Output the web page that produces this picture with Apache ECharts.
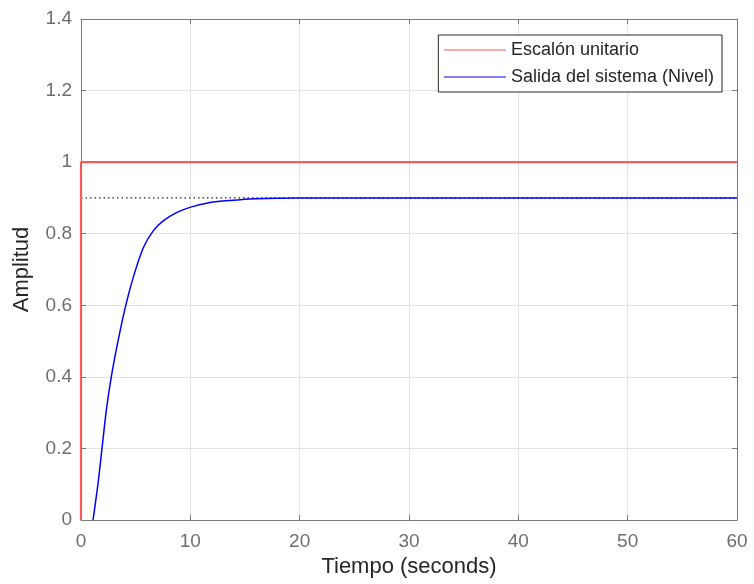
<!DOCTYPE html>
<html>
<head>
<meta charset="utf-8">
<script src="https://cdn.jsdelivr.net/npm/echarts@6/dist/echarts.min.js"></script>
<style>
  html, body { margin: 0; padding: 0; background: #fff; }
  #chart { width: 754px; height: 584px; }
</style>
</head>
<body>
<div id="chart"></div>
<script>
  // step input (t, amplitude)
  const stepTime = [0, 0, 60];
  const stepValue = [0, 1, 1];

  // system output
  const outTime = [1.1, 1.55, 1.92, 2.31, 2.77, 3.32, 4.02, 4.78, 5.69, 6.6, 7.52, 8.74, 10.1, 11.8, 13.6, 16.0, 20, 30, 60];
  const outValue = [0, 0.10, 0.20, 0.305, 0.40, 0.49, 0.59, 0.678, 0.76, 0.808, 0.836, 0.859, 0.875, 0.887, 0.893, 0.898, 0.9, 0.9, 0.9];

  // steady state marker
  const finalTime = [0, 60];
  const finalValue = [0.9, 0.9];

  const xTicks = [0, 10, 20, 30, 40, 50, 60];
  const yTicks = [0, 0.2, 0.4, 0.6, 0.8, 1, 1.2, 1.4];

  const font = 'Liberation Sans, Arial, Helvetica, sans-serif';
  const axisGray = '#7a7a7a';

  const zip = (a, b) => a.map((v, i) => [v, b[i]]);

  const chart = echarts.init(document.getElementById('chart'));

  chart.setOption({
    animation: false,
    textStyle: { fontFamily: font },
    grid: {
      left: 81,
      right: 17,
      top: 19,
      bottom: 64,
      containLabel: false,
      outerBoundsMode: 'none'
    },
    legend: {
      right: 32,
      top: 35,
      orient: 'vertical',
      align: 'left',
      backgroundColor: '#fff',
      borderColor: '#262626',
      borderWidth: 1,
      borderRadius: 0,
      padding: [6, 8, 6, 5],
      itemWidth: 62,
      itemHeight: 18,
      itemGap: 9,
      itemStyle: { opacity: 0 },
      lineStyle: { width: 1.2 },
      textStyle: { fontSize: 18, color: '#262626', fontFamily: font },
      data: ['Escalón unitario', 'Salida del sistema (Nivel)']
    },
    xAxis: [
      {
        type: 'value',
        min: xTicks[0],
        max: xTicks[xTicks.length - 1],
        interval: 10,
        name: 'Tiempo (seconds)',
        nameLocation: 'middle',
        nameGap: 36,
        nameTextStyle: { fontSize: 22, color: '#262626', fontFamily: font },
        axisLine: { show: true, lineStyle: { color: axisGray, width: 1 } },
        axisTick: { show: true, inside: true, length: 5, lineStyle: { color: axisGray } },
        axisLabel: { fontSize: 19, color: '#6e6e6e', margin: 12, fontFamily: font },
        splitLine: { show: true, lineStyle: { color: '#e3e3e3', width: 1 } }
      },
      {
        type: 'value',
        position: 'top',
        min: xTicks[0],
        max: xTicks[xTicks.length - 1],
        interval: 10,
        axisLine: { show: true, onZero: false, lineStyle: { color: axisGray, width: 1 } },
        axisTick: { show: true, inside: true, length: 5, lineStyle: { color: axisGray } },
        axisLabel: { show: false },
        splitLine: { show: false }
      }
    ],
    yAxis: [
      {
        type: 'value',
        min: yTicks[0],
        max: yTicks[yTicks.length - 1],
        interval: 0.2,
        name: 'Amplitud',
        nameLocation: 'middle',
        nameRotate: 90,
        nameGap: 48,
        nameTextStyle: { fontSize: 22, color: '#262626', fontFamily: font },
        axisLine: { show: true, lineStyle: { color: axisGray, width: 1 } },
        axisTick: { show: true, inside: true, length: 5, lineStyle: { color: axisGray } },
        axisLabel: { fontSize: 19, color: '#6e6e6e', margin: 9, fontFamily: font },
        splitLine: { show: true, lineStyle: { color: '#e3e3e3', width: 1 } }
      },
      {
        type: 'value',
        position: 'right',
        min: yTicks[0],
        max: yTicks[yTicks.length - 1],
        interval: 0.2,
        axisLine: { show: true, onZero: false, lineStyle: { color: axisGray, width: 1 } },
        axisTick: { show: true, inside: true, length: 5, lineStyle: { color: axisGray } },
        axisLabel: { show: false },
        splitLine: { show: false }
      }
    ],
    series: [
      {
        name: 'final',
        type: 'line',
        data: zip(finalTime, finalValue),
        symbol: 'none',
        silent: true,
        color: '#262626',
        lineStyle: { color: '#262626', width: 1.2, type: [1.5, 3] },
        z: 1
      },
      {
        name: 'Escalón unitario',
        type: 'line',
        data: zip(stepTime, stepValue),
        symbol: 'none',
        color: '#ff2a2a',
        lineStyle: { color: '#f25c5c', width: 2.2 },
        z: 2
      },
      {
        name: 'Salida del sistema (Nivel)',
        type: 'line',
        data: zip(outTime, outValue),
        symbol: 'none',
        smooth: 0.3,
        color: '#0000ff',
        lineStyle: { color: '#0000ff', width: 1.5 },
        z: 3
      }
    ]
  });
</script>
</body>
</html>
